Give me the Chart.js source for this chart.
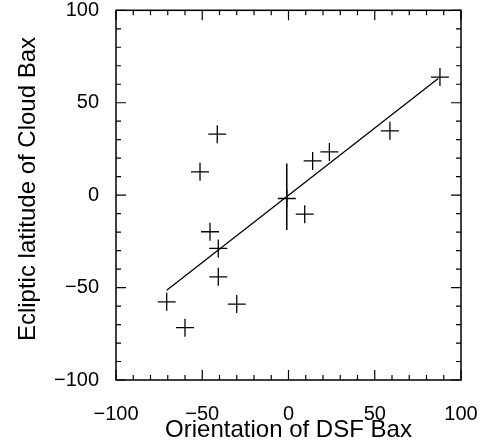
<!DOCTYPE html>
<html>
<head>
<meta charset="utf-8">
<script src="https://cdn.jsdelivr.net/npm/chart.js@4/dist/chart.umd.min.js"></script>
<style>
  html, body { margin: 0; padding: 0; background: #fff; }
  #wrap { width: 484px; height: 446px; }
</style>
</head>
<body>
<div id="wrap"><canvas id="bxChart" width="484" height="446"></canvas></div>
<script>
// Cloud data
const dsfOrientation = [87.8, 58.8, 23.7, 14.0, 9.4, -1.0, -41.3, -51.3, -45.5, -40.7, -40.7, -30.0, -70.6, -60.0];
const cloudLatitude  = [63.9, 34.8, 23.4, 18.5, -10.3, -1.8, 33.0, 12.6, -19.8, -28.8, -44.2, -58.9, -57.7, -71.7];

// fitted line end points
const fitX = [-70.6, 86.8];
const fitY = [-51.4, 63.1];

// error bar on the point near the origin
const errX = [-1.0, -1.0];
const errY = [17.1, -18.9];

const majorTicks = [-100, -50, 0, 50, 100];
const minorTicks = [-90, -80, -70, -60, -40, -30, -20, -10, 10, 20, 30, 40, 60, 70, 80, 90];

const xTitle = 'Orientation of DSF Bax';
const yTitle = 'Ecliptic latitude of Cloud Bax';

const FONT = "'Liberation Sans', Arial, Helvetica, sans-serif";

const toPoints = (xs, ys) => xs.map((x, i) => ({ x: x, y: ys[i] }));

// white background, frame, inward ticks and axis titles
const framePlugin = {
    id: 'frame',
    beforeDraw: (chart) => {
        const ctx = chart.ctx;
        ctx.save();
        ctx.fillStyle = '#fff';
        ctx.fillRect(0, 0, chart.width, chart.height);
        ctx.restore();
    },
    afterDraw: (chart) => {
        const ctx = chart.ctx;
        const a = chart.chartArea;
        const xs = chart.scales.x;
        const ys = chart.scales.y;
        ctx.save();
        ctx.strokeStyle = '#000';
        ctx.lineWidth = 1.5;
        ctx.strokeRect(a.left, a.top, a.right - a.left, a.bottom - a.top);

        ctx.lineWidth = 1.2;
        const tick = (vals, len) => {
            ctx.beginPath();
            vals.forEach(v => {
                const px = xs.getPixelForValue(v);
                ctx.moveTo(px, a.bottom); ctx.lineTo(px, a.bottom - len);
                ctx.moveTo(px, a.top); ctx.lineTo(px, a.top + len);
                const py = ys.getPixelForValue(v);
                ctx.moveTo(a.left, py); ctx.lineTo(a.left + len, py);
                ctx.moveTo(a.right, py); ctx.lineTo(a.right - len, py);
            });
            ctx.stroke();
        };
        tick(majorTicks, 10);
        tick(minorTicks, 5);

        ctx.fillStyle = '#000';
        ctx.font = '24px ' + FONT;
        ctx.textAlign = 'center';
        ctx.textBaseline = 'middle';
        ctx.fillText(xTitle, (a.left + a.right) / 2, 430);

        ctx.translate(28, 189);
        ctx.rotate(-Math.PI / 2);
        ctx.fillText(yTitle, 0, 0);
        ctx.restore();
    }
};

// drop the label overhang padding so the plot box sits where the figure has it
const noOverhang = (scale) => {
    scale.paddingTop = 0;
    scale.paddingBottom = 0;
    scale.paddingLeft = 0;
    scale.paddingRight = 0;
};

const ctx = document.getElementById('bxChart').getContext('2d');
window.bxChart = new Chart(ctx, {
    type: 'scatter',
    data: {
        datasets: [
            {
                label: 'clouds',
                data: toPoints(dsfOrientation, cloudLatitude),
                pointStyle: 'cross',
                pointRadius: 9,
                pointHoverRadius: 9,
                borderColor: '#000',
                backgroundColor: '#000',
                borderWidth: 1.3,
                showLine: false
            },
            {
                label: 'fit',
                data: toPoints(fitX, fitY),
                showLine: true,
                borderColor: '#000',
                borderWidth: 1.3,
                pointRadius: 0
            },
            {
                label: 'error',
                data: toPoints(errX, errY),
                showLine: true,
                borderColor: '#000',
                borderWidth: 1.5,
                pointRadius: 0
            }
        ]
    },
    options: {
        responsive: false,
        animation: false,
        devicePixelRatio: 1,
        layout: {
            padding: { top: 10, right: 23, left: 0, bottom: 0 }
        },
        plugins: {
            legend: { display: false },
            tooltip: { enabled: false }
        },
        scales: {
            x: {
                type: 'linear',
                min: -100,
                max: 100,
                grid: { display: false },
                border: { display: false },
                afterFit: (scale) => { scale.height = 66; noOverhang(scale); },
                afterBuildTicks: (scale) => {
                    scale.ticks = majorTicks.map(v => ({ value: v }));
                },
                ticks: {
                    color: '#000',
                    padding: 14,
                    font: { family: FONT, size: 20 },
                    callback: (v) => String(v).replace('-', '\u2212')
                }
            },
            y: {
                type: 'linear',
                min: -100,
                max: 100,
                grid: { display: false },
                border: { display: false },
                afterFit: (scale) => { scale.width = 116; noOverhang(scale); },
                afterBuildTicks: (scale) => {
                    scale.ticks = majorTicks.map(v => ({ value: v }));
                },
                ticks: {
                    color: '#000',
                    padding: 9,
                    font: { family: FONT, size: 20 },
                    callback: (v) => String(v).replace('-', '\u2212')
                }
            }
        }
    },
    plugins: [framePlugin]
});
</script>
</body>
</html>
